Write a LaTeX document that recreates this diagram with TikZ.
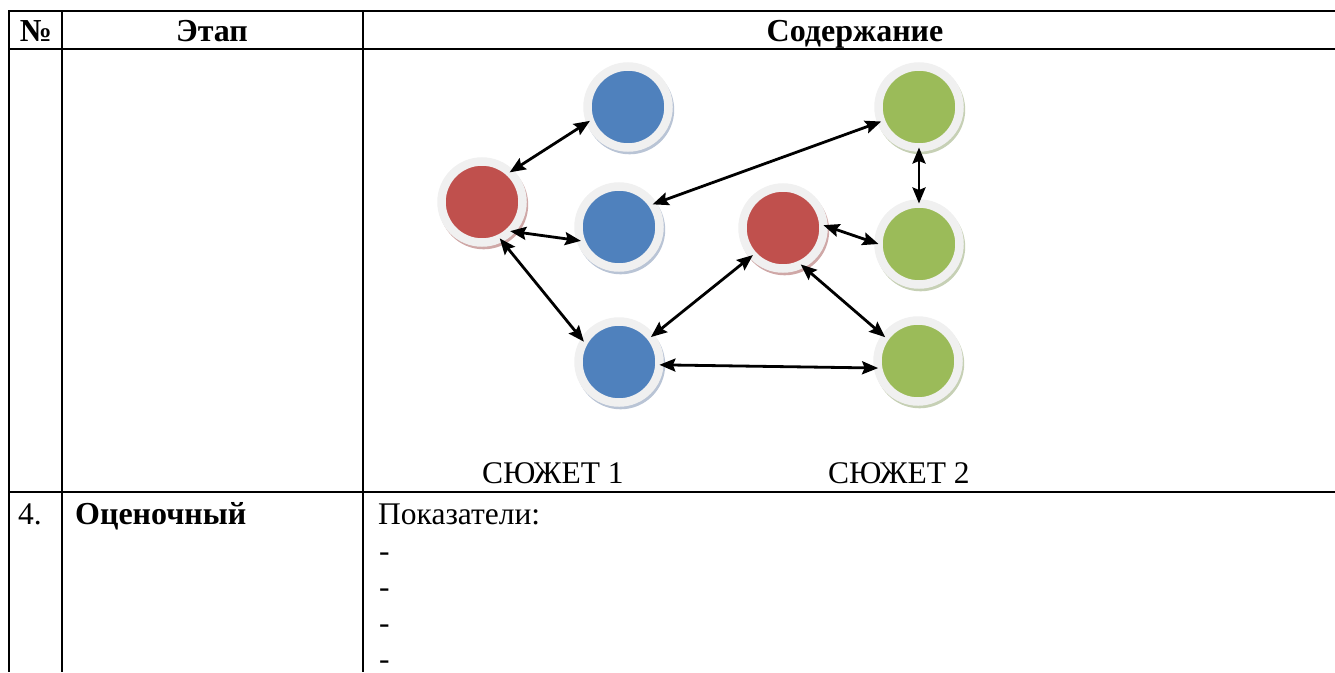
\documentclass[tikz,border=0pt]{standalone}
\usepackage{fontspec}
\setmainfont{Liberation Serif}
\usetikzlibrary{arrows.meta,shadows}
\definecolor{ringgray}{HTML}{F0F0F0}
\definecolor{plotblue}{HTML}{4F81BD}
\definecolor{plotred}{HTML}{C0504D}
\definecolor{plotgreen}{HTML}{9BBB59}
\definecolor{shblue}{HTML}{7F93B3}
\definecolor{shred}{HTML}{A8605E}
\definecolor{shgreen}{HTML}{98AA78}

\begin{document}
\begin{tikzpicture}[
      x=1pt, y=-1pt,
      rule/.style={line width=2pt},
      head/.style={font=\fontsize{32}{38}\selectfont\bfseries, anchor=base, inner sep=0pt},
      txt/.style={font=\fontsize{31.5}{37}\selectfont, anchor=base west, inner sep=0pt},
      plot/.style={circle, draw=ringgray, line width=8.5pt, outer sep=0pt,
        minimum size=81pt, inner sep=0pt},
      plotb/.style={plot, fill=plotblue,
        drop shadow={shadow xshift=1.5pt, shadow yshift=-2.5pt, shadow scale=1.1, fill=shblue, opacity=.55}},
      plotr/.style={plot, fill=plotred,
        drop shadow={shadow xshift=1.5pt, shadow yshift=-2.5pt, shadow scale=1.1, fill=shred, opacity=.55}},
      plotg/.style={plot, fill=plotgreen,
        drop shadow={shadow xshift=1.5pt, shadow yshift=-2.5pt, shadow scale=1.1, fill=shgreen, opacity=.55}},
      link/.style={line width=2.8pt, {Stealth[length=16pt,width=13pt,inset=2.5pt]}-{Stealth[length=16pt,width=13pt,inset=2.5pt]}}
    ]
    \useasboundingbox (0,0) rectangle (1335,672);
    % Draw the table rules.
    \draw[rule] (9,11) -- (1335,11);
    \draw[rule] (9,49) -- (1335,49);
    \draw[rule] (9,492) -- (1335,492);
    \draw[rule] (9,10) -- (9,672);
    \draw[rule] (62,10) -- (62,672);
    \draw[rule] (363,10) -- (363,672);
    % Header row.
    \node[head] (hnum) at (36,41) {№};
    \node[head] (hstage) at (212,41) {Этап};
    \node[head] (hcontent) at (855,41) {Содержание};
    % Plot 1.
    \node[plotr] (r1) at (482,202) {};
    \node[plotb] (b1) at (628,107) {};
    \node[plotb] (b2) at (619,227) {};
    \node[plotb] (b3) at (619,362) {};
    % Plot 2.
    \node[plotr] (r2) at (783,228) {};
    \node[plotg] (g1) at (919,107) {};
    \node[plotg] (g2) at (919,244) {};
    \node[plotg] (g3) at (918,361) {};
    % Draw the links.
    \draw[link] (r1.47) -- (b1.200);
    \draw[link] (r1.-46) -- (b2.200);
    \draw[link] (r1.-64) -- (b3.150);
    \draw[link] (b2.34) -- (g1.201);
    \draw[link] (g1.-90) -- (g2.90);
    \draw[link] (r2.4) -- (g2.180);
    \draw[link] (r2.222) -- (b3.38);
    \draw[link] (r2.-64) -- (g3.144);
    \draw[link] (b3.-4) -- (g3.190);
    % Captions.
    \node[txt] (cap1) at (482,483) {СЮЖЕТ 1};
    \node[txt] (cap2) at (828,483) {СЮЖЕТ 2};
    % Row 4.
    \node[txt] (num4) at (18,524) {4.};
    \node[txt, font=\fontsize{32}{38}\selectfont\bfseries] (stage4) at (75,524) {Оценочный};
    \node[txt] (ind) at (378,524) {Показатели:};
    \foreach \y [count=\i] in {561,597,633,669}
      \node[txt, text depth=0pt] (dash\i) at (379,\y) {-};
\end{tikzpicture}
\end{document}
